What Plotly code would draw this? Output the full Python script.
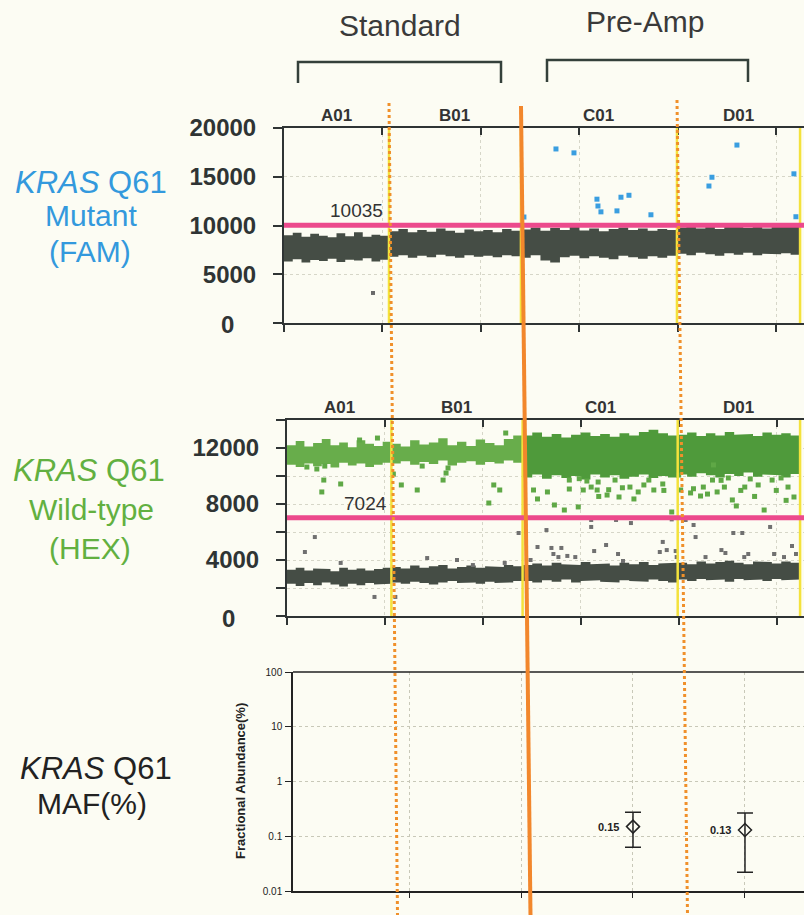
import math
import plotly.graph_objects as go

W, H = 804, 915

# ---------------- data ----------------
wells = ["A01", "B01", "C01", "D01"]
well_edges = [0, 5330, 12030, 19950, 26200]          # event number at well boundaries
event_ticks = [0, 5000, 10000, 15000, 20000, 25000]
event_range = [0, 26400]

# Channel 1 (FAM, mutant)
fam_ticks = [0, 5000, 10000, 15000, 20000]
fam_tick_text = ["", "5000", "10000", "15000", "20000"]
fam_threshold = 10035
fam_neg_upper = [
    [9000, 9250, 8850, 9150, 8950, 8800, 9200, 8900, 9300, 8850, 9050, 8950],
    [9400, 9650, 9300, 9550, 9350, 9700, 9450, 9250, 9600, 9400, 9550, 9300, 9650, 9450],
    [9600, 9800, 9450, 9750, 9550, 9850, 9500, 9700, 9400, 9650, 9800, 9550, 9700, 9450, 9650, 9550],
    [9800, 10050, 9700, 9950, 9650, 9900, 10000, 9750, 9950, 9700, 10050, 9850, 9900],
]
fam_neg_lower = [
    [6300, 6550, 6200, 6450, 6350, 6600, 6250, 6500, 6400, 6650, 6300, 6500],
    [6800, 6950, 6700, 6900, 6750, 7000, 6850, 6700, 6950, 6800, 6900, 6750, 6950, 6850],
    [6700, 6950, 6400, 6200, 6750, 6900, 6650, 6850, 6700, 6550, 6900, 6750, 6600, 6850, 6700, 6900],
    [7100, 6950, 7200, 7050, 6900, 7150, 7000, 7200, 6950, 7100, 7050, 7150, 7000],
]
fam_pos_event = [12180, 13807, 14721, 15888, 15939, 16091, 16904, 17107, 17513, 18629,
                 21574, 21726, 22995, 25888, 25990]
fam_pos_amp = [10870, 17850, 17450, 12700, 12000, 11400, 11500, 12900, 13100, 11100,
               14050, 14950, 18250, 15300, 10900]
fam_neg_out_event = [4518]
fam_neg_out_amp = [3080]

# Channel 2 (HEX, wild-type)
hex_ticks = [0, 2000, 4000, 6000, 8000, 10000, 12000, 14000]
hex_tick_text = ["", "", "4000", "", "8000", "", "12000", ""]
hex_threshold = 7024
hex_pos_upper = [
    [12200, 12500, 12100, 12350, 12650, 12200, 12400, 12050, 12550, 12300, 12150, 12450],
    [12300, 12100, 12550, 12250, 12400, 12700, 12200, 12450, 12150, 12600, 12350, 12200, 12650, 12900],
    [12900, 13100, 12800, 13000, 12750, 12950, 13100, 12850, 13000, 12800, 13050, 12900, 13150, 13300, 13050, 12900],
    [12950, 13100, 12850, 13050, 12900, 13150, 12950, 13000, 12850, 13100, 12950, 13050, 12900],
]
hex_pos_lower = [
    [10800, 10650, 10900, 10700, 10850, 10600, 10950, 10750, 10900, 10650, 10800, 10950],
    [10900, 11050, 10800, 11000, 10850, 11100, 10750, 10950, 11050, 10800, 11000, 10900, 11100, 10950],
    [9900, 10100, 9800, 10050, 9850, 10000, 9750, 10100, 9900, 10050, 9800, 9950, 10100, 9850, 10000, 9900],
    [10100, 9950, 10200, 10050, 9900, 10150, 10000, 10250, 9950, 10100, 10050, 9900, 10150],
]
hex_neg_upper = [
    [3300, 3450, 3250, 3400, 3350, 3200, 3450, 3300, 3400, 3250, 3350, 3450],
    [3500, 3400, 3600, 3450, 3550, 3650, 3400, 3500, 3600, 3450, 3550, 3500, 3650, 3550],
    [3650, 3750, 3600, 3800, 3700, 3650, 3850, 3700, 3750, 3600, 3800, 3700, 3850, 3650, 3750, 3800],
    [3800, 3700, 3900, 3750, 3850, 3950, 3800, 3700, 3900, 3850, 3750, 3900, 3800],
]
hex_neg_lower = [
    [2300, 2150, 2350, 2200, 2400, 2250, 2100, 2300, 2200, 2350, 2250, 2300],
    [2400, 2300, 2450, 2350, 2250, 2400, 2500, 2350, 2400, 2300, 2450, 2350, 2400, 2500],
    [2500, 2400, 2550, 2450, 2600, 2400, 2500, 2550, 2450, 2400, 2550, 2500, 2450, 2600, 2500, 2400],
    [2600, 2500, 2650, 2550, 2600, 2450, 2650, 2550, 2600, 2500, 2650, 2550, 2600],
]
hex_pos_rain_event = [1015, 1523, 1929, 1878, 1777, 2741, 3706, 4619, 5431, 5838, 6650, 6904,
                      8122, 8223, 7970, 10558, 10863, 10305, 11168,
                      12589, 12792, 13299, 13655, 14162, 14416, 14416, 14873, 15127, 15533,
                      15838, 15888, 16345, 16751, 16954, 17512, 17715, 18223, 18477, 18731,
                      19188, 19645, 20000, 20102, 20609, 21117, 21472, 21726, 22335, 22741,
                      22944, 23655, 24061, 24365, 24772, 25228, 25584, 25888, 21777, 22538,
                      14923, 15314, 15918, 16426, 17127, 17934, 19244, 20756, 21259, 21964,
                      23172, 23877, 24985, 25487, 23375, 22167]
hex_pos_rain_amp = [10640, 10500, 10710, 9710, 8860, 9430, 12570, 12710, 10140, 9360, 9000, 10710,
                    10210, 10570, 9710, 9360, 9000, 8070, 13070,
                    9000, 8360, 8860, 7930, 7570, 9070, 9710, 7790, 9000, 9210,
                    9000, 9570, 8640, 9710, 8500, 9210, 8360, 9360, 9710, 9000,
                    9430, 7430, 10070, 9000, 8790, 8570, 8710, 9710, 9210, 8290,
                    7860, 9790, 9360, 7570, 9710, 9860, 9210, 8500, 10790, 9860,
                    9810, 9640, 8540, 9020, 9160, 8860, 8970, 9090, 9210, 8860,
                    8970, 8540, 8970, 8260, 9210, 9690]
hex_neg_rain_event = [1421, 914, 2741, 4467, 5533, 7157, 8680, 9492, 11117, 11827,
                      12437, 12792, 13249, 13503, 13604, 14010, 13858, 14315, 14721, 15533,
                      15533, 15685, 16294, 16802, 16904, 17157, 17563, 19036, 19188, 19391,
                      19645, 20355, 20761, 20863, 21371, 22183, 22386, 22792, 23249, 23350,
                      23553, 24670, 24873, 25380, 25787, 25990, 19848, 19898]
hex_neg_rain_amp = [5640, 4570, 3790, 1360, 1360, 4140, 4000, 3640, 3790, 5930,
                    4000, 4930, 6140, 4860, 4430, 4860, 4210, 4290, 4210, 6860,
                    6360, 4640, 5070, 6860, 4430, 3930, 6640, 4570, 5290, 4710,
                    6900, 6860, 6500, 5640, 4210, 4710, 4500, 5930, 5930, 4210,
                    4430, 6360, 4430, 4210, 5000, 4430, 4640, 4210]

# Fractional abundance (MAF %)
maf_wells = ["C01", "D01"]
maf_values = [0.15, 0.13]
maf_hi = [0.275, 0.266]
maf_lo = [0.063, 0.022]
maf_ticks = [0.01, 0.1, 1, 10, 100]
maf_tick_text = ["0.01", "0.1", "1", "10", "100"]

# ---------------- helpers ----------------
def pxx(p):
    return p / W


def pxy(p):
    return 1 - p / H


FONT = "Liberation Sans, Arial, sans-serif"
INK = "#2f3434"
BG = "#fcfcf3"
GRID = "#d6d6c8"

fig = go.Figure()


def add_band(upper, lower, colors, xa, ya):
    for i in range(len(wells)):
        a, b = well_edges[i], well_edges[i + 1]
        xs, ys = [], []
        n = len(upper[i])
        st = (b - a) / n
        for k, v in enumerate(upper[i]):
            xs += [a + k * st, a + (k + 1) * st]
            ys += [v, v]
        m = len(lower[i])
        st2 = (b - a) / m
        for k in reversed(range(m)):
            xs += [a + (k + 1) * st2, a + k * st2]
            ys += [lower[i][k], lower[i][k]]
        fig.add_trace(go.Scatter(x=xs, y=ys, mode="lines", fill="toself",
                                 fillcolor=colors[i], line=dict(width=0),
                                 xaxis=xa, yaxis=ya, hoverinfo="skip", showlegend=False))


# plot 1: FAM
add_band(fam_neg_upper, fam_neg_lower, ["#454d45"] * 4, "x", "y")
fig.add_trace(go.Scatter(x=fam_neg_out_event, y=fam_neg_out_amp, mode="markers",
                         marker=dict(symbol="square", size=4, color="#6a6a6a"),
                         xaxis="x", yaxis="y", showlegend=False, hoverinfo="skip"))
fig.add_trace(go.Scatter(x=fam_pos_event, y=fam_pos_amp, mode="markers",
                         marker=dict(symbol="square", size=5, color="#3a9ee0"),
                         xaxis="x", yaxis="y", showlegend=False, hoverinfo="skip"))

# plot 2: HEX
add_band(hex_pos_upper, hex_pos_lower, ["#68ad4b", "#68ad4b", "#4f9a3b", "#4f9a3b"], "x2", "y2")
add_band(hex_neg_upper, hex_neg_lower, ["#454d45"] * 4, "x2", "y2")
fig.add_trace(go.Scatter(x=hex_pos_rain_event, y=hex_pos_rain_amp, mode="markers",
                         marker=dict(symbol="square", size=5, color="#5fa846"),
                         xaxis="x2", yaxis="y2", showlegend=False, hoverinfo="skip"))
fig.add_trace(go.Scatter(x=hex_neg_rain_event, y=hex_neg_rain_amp, mode="markers",
                         marker=dict(symbol="square", size=4, color="#707070"),
                         xaxis="x2", yaxis="y2", showlegend=False, hoverinfo="skip"))

# plot 3: MAF
maf_x = [wells.index(w) for w in maf_wells]
fig.add_trace(go.Scatter(
    x=maf_x, y=maf_values, mode="markers",
    marker=dict(symbol="diamond-open", size=10, color="#222", line=dict(width=1.5)),
    error_y=dict(type="data", symmetric=False,
                 array=[h - v for h, v in zip(maf_hi, maf_values)],
                 arrayminus=[v - l for v, l in zip(maf_values, maf_lo)],
                 color="#222", thickness=1.5, width=8),
    xaxis="x3", yaxis="y3", showlegend=False, hoverinfo="skip"))

# dummy traces so the top overlay axes render
for xa, ya in (("x4", "y"), ("x5", "y2")):
    fig.add_trace(go.Scatter(x=[None], y=[None], xaxis=xa, yaxis=ya, showlegend=False,
                             hoverinfo="skip"))

DOM1_X = [pxx(284), 1]
DOM1_Y = [pxy(323), pxy(128)]
DOM2_X = [pxx(287), 1]
DOM2_Y = [pxy(616), pxy(420)]
DOM3_X = [pxx(293), 1]
DOM3_Y = [pxy(891), pxy(672)]

common_x = dict(range=event_range, tickvals=event_ticks, showticklabels=False,
                ticks="outside", ticklen=7, tickwidth=1.5, tickcolor=INK,
                showline=True, linecolor=INK, linewidth=2, showgrid=True,
                gridcolor=GRID, griddash="dot", gridwidth=1, zeroline=False, automargin=False)
top_x = dict(range=event_range, tickvals=event_ticks, showticklabels=False, side="top",
             ticks="inside", ticklen=7, tickwidth=1.5, tickcolor=INK, showline=True,
             linecolor=INK, linewidth=2, showgrid=False, zeroline=False, automargin=False)
common_y = dict(ticks="outside", ticklen=9, tickwidth=1.5, tickcolor=INK, showline=True,
                linecolor=INK, linewidth=2, showgrid=True, gridcolor=GRID, griddash="dot",
                zeroline=False, tickfont=dict(family=FONT, size=24, color=INK, weight="bold"),
                ticklabelstandoff=12, automargin=False)

fig.update_layout(
    width=W, height=H, margin=dict(l=0, r=0, t=0, b=0, pad=0, autoexpand=False),
    paper_bgcolor=BG, plot_bgcolor=BG, showlegend=False,
    font=dict(family=FONT, color=INK),
    xaxis=dict(domain=DOM1_X, anchor="y", **common_x),
    yaxis=dict(domain=DOM1_Y, anchor="x", range=[0, 20000], tickvals=fam_ticks,
               ticktext=fam_tick_text, **common_y),
    xaxis4=dict(overlaying="x", anchor="y", **top_x),
    xaxis2=dict(domain=DOM2_X, anchor="y2", **common_x),
    yaxis2=dict(domain=DOM2_Y, anchor="x2", range=[0, 14000], tickvals=hex_ticks,
                ticktext=hex_tick_text, **common_y),
    xaxis5=dict(overlaying="x2", anchor="y2", **top_x),
    xaxis3=dict(domain=DOM3_X, anchor="y3", range=[-1.036, 3.527], tickvals=[0, 1, 2, 3],
                showticklabels=False, ticks="outside", ticklen=5, tickcolor="#222",
                showline=True, linecolor="#222", linewidth=1.5, showgrid=True,
                gridcolor="#c8c8b8", griddash="dot", zeroline=False, automargin=False),
    yaxis3=dict(domain=DOM3_Y, anchor="x3", type="log", range=[-2, 2], tickvals=maf_ticks,
                ticktext=maf_tick_text, ticks="outside", ticklen=6, tickcolor="#222",
                showline=True, linecolor="#222", linewidth=1.5, showgrid=True,
                gridcolor="#c8c8b8", griddash="dot", zeroline=False, automargin=False,
                tickfont=dict(family=FONT, size=10, color="#222"), ticklabelstandoff=1),
)

shapes = []
# MAF top border
shapes.append(dict(type="line", xref="paper", yref="paper", x0=pxx(293), x1=1,
                   y0=pxy(672), y1=pxy(672), line=dict(color="#222", width=1.5)))
# well separators (QuantaSoft yellow) and thresholds
for xa, ya, thr in (("x", "y", fam_threshold), ("x2", "y2", hex_threshold)):
    for e in well_edges[1:]:
        shapes.append(dict(type="line", xref=xa, yref=ya + " domain", x0=e, x1=e, y0=0, y1=1,
                           line=dict(color="#f4e23c", width=2.5), layer="above"))
    shapes.append(dict(type="line", xref=xa, yref=ya, x0=event_range[0], x1=event_range[1],
                       y0=thr, y1=thr, line=dict(color="#ec4a8c", width=5), layer="above"))
# hand-drawn orange guides across the figure
shapes.append(dict(type="line", xref="paper", yref="paper", x0=pxx(389), y0=pxy(103),
                   x1=pxx(397.5), y1=pxy(915), line=dict(color="#f0902a", width=3, dash="dot"),
                   layer="above"))
shapes.append(dict(type="line", xref="paper", yref="paper", x0=pxx(677), y0=pxy(100),
                   x1=pxx(687.5), y1=pxy(915), line=dict(color="#f0902a", width=3, dash="dot"),
                   layer="above"))
shapes.append(dict(type="line", xref="paper", yref="paper", x0=pxx(521), y0=pxy(106),
                   x1=pxx(530.5), y1=pxy(915), line=dict(color="#f2872c", width=4),
                   layer="above"))
# group brackets
for x0, x1, yt, yb in ((298, 501, 62, 83), (547, 748, 60, 82)):
    path = "M {} {} L {} {} L {} {} L {} {}".format(
        pxx(x0), pxy(yb), pxx(x0), pxy(yt), pxx(x1), pxy(yt), pxx(x1), pxy(yb))
    shapes.append(dict(type="path", xref="paper", yref="paper", path=path,
                       line=dict(color="#34403a", width=2.5)))
fig.update_layout(shapes=shapes)

ann = []


def text(x, y, s, size, color, **kw):
    d = dict(x=pxx(x), y=pxy(y), xref="paper", yref="paper", text=s, showarrow=False,
             font=dict(family=FONT, size=size, color=color), xanchor="center", yanchor="middle")
    d.update(kw)
    ann.append(d)


text(400, 25, "Standard", 30, "#3a3a3a")
text(645, 22, "Pre-Amp", 30, "#3a3a3a")

BLUE, GREEN = "#3399dd", "#62b040"
text(91, 182, "<i>KRAS</i> Q61", 31, BLUE)
text(91, 216, "Mutant", 30, BLUE)
text(90, 251, "(FAM)", 30, BLUE)
text(89, 470, "<i>KRAS</i> Q61", 31, GREEN)
text(91, 509, "Wild-type", 30, GREEN)
text(90, 548, "(HEX)", 30, GREEN)
text(96, 768, "<i>KRAS</i> Q61", 31, "#222")
text(92, 803, "MAF(%)", 30, "#222")

# zero labels of droplet plots
text(227, 325, "0", 24, INK, font=dict(family=FONT, size=24, color=INK, weight="bold"))
text(228, 618, "0", 24, INK, font=dict(family=FONT, size=24, color=INK, weight="bold"))

# well labels
for xa, ylab in (("x", 115), ("x2", 407)):
    for i, w in enumerate(wells):
        ann.append(dict(x=(well_edges[i] + well_edges[i + 1]) / 2, y=pxy(ylab), xref=xa,
                        yref="paper", text=w, showarrow=False, xanchor="center",
                        yanchor="middle",
                        font=dict(family=FONT, size=17, color="#333", weight="bold")))

# threshold values
ann.append(dict(x=5150, y=fam_threshold, xref="x", yref="y", text=str(fam_threshold),
                showarrow=False, xanchor="right", yanchor="bottom", yshift=2,
                font=dict(family=FONT, size=19, color="#333")))
ann.append(dict(x=5200, y=hex_threshold, xref="x2", yref="y2", text=str(hex_threshold),
                showarrow=False, xanchor="right", yanchor="bottom", yshift=2,
                font=dict(family=FONT, size=19, color="#333")))

# MAF value labels (log axis -> annotation y in log10 units)
for xv, v in zip(maf_x, maf_values):
    ann.append(dict(x=xv, y=math.log10(v), xref="x3", yref="y3", text=str(v), showarrow=False,
                    xanchor="right", yanchor="middle", xshift=-12,
                    font=dict(family=FONT, size=11, color="#222", weight="bold")))

text(240, 781, "Fractional Abundance(%)", 13, "#222", textangle=-90,
     font=dict(family=FONT, size=13, color="#222", weight="bold"))

fig.update_layout(annotations=ann)
fig.write_html("out.html")
